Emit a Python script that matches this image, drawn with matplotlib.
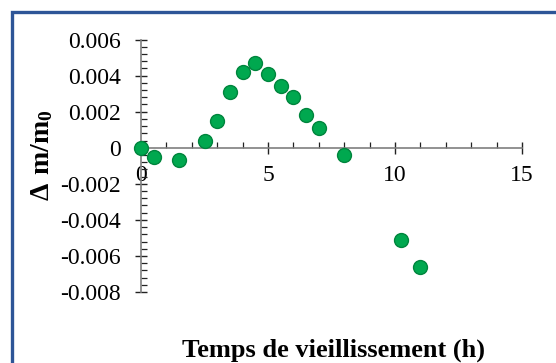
import numpy as np
import matplotlib
matplotlib.use("Agg")
import matplotlib.pyplot as plt
from matplotlib.patches import Rectangle
from matplotlib.ticker import MultipleLocator

# données
temps = [0, 0.5, 1.5, 2.5, 3, 3.5, 4, 4.5, 5, 5.5, 6, 6.5, 7, 8, 10.25, 11]
dm = [0, -0.0005, -0.0007, 0.0004, 0.0015, 0.0031, 0.0042, 0.0047, 0.0041,
      0.0034, 0.0028, 0.0018, 0.0011, -0.0004, -0.0051, -0.0066]
x_ticks = [0, 5, 10, 15]
y_ticks = [-0.008, -0.006, -0.004, -0.002, 0, 0.002, 0.004, 0.006]

plt.rcParams['font.family'] = ['Liberation Serif', 'DejaVu Serif']
plt.rcParams['mathtext.fontset'] = 'custom'
plt.rcParams['mathtext.rm'] = 'Liberation Serif'
plt.rcParams['mathtext.bf'] = 'Liberation Serif:bold'

fig = plt.figure(figsize=(5.56, 3.63), dpi=100)
fig.patch.set_facecolor('white')

# cadre bleu (coupé à droite et en bas comme dans l'original)
fig.patches.append(Rectangle((11.5 / 556, -0.1), 1.2, 1 - 11.5 / 363 + 0.1,
                             transform=fig.transFigure, fill=False,
                             edgecolor='#2E5597', linewidth=2.4, zorder=0))

ax = fig.add_axes([141 / 556, 1 - 292 / 363, 381 / 556, 252.5 / 363])
ax.scatter(temps, dm, s=100, color='#00A84F', edgecolors='#00853D',
           linewidths=1.0, zorder=3, clip_on=False)

ax.set_xlim(0, 15)
ax.set_ylim(-0.008, 0.006)
ax.set_xticks(x_ticks)
ax.set_yticks(y_ticks)
ax.xaxis.set_minor_locator(MultipleLocator(1))
ax.yaxis.set_minor_locator(MultipleLocator(0.0004))
ax.yaxis.set_major_formatter(plt.FuncFormatter(lambda v, p: '0' if abs(v) < 1e-12 else f'{v:.3f}'))

for s in ['top', 'right']:
    ax.spines[s].set_visible(False)
ax.spines['bottom'].set_position(('data', 0))
ax.spines['left'].set_position(('data', 0))
for s in ['bottom', 'left']:
    ax.spines[s].set_color('#7F7F7F')
    ax.spines[s].set_linewidth(1.2)

ax.tick_params(which='major', direction='inout', length=9, width=1.0,
               color='#222222', labelsize=17, labelcolor='black')
ax.tick_params(axis='x', which='major', pad=8)
ax.tick_params(axis='y', which='major', pad=10)
ax.tick_params(which='minor', direction='in', length=4.5, width=0.9, color='#222222')

ax.set_xlabel('Temps de vieillissement (h)', fontsize=19, fontweight='bold')
ax.xaxis.set_label_coords(0.504, -0.2297)
ax.xaxis.label.set_va('center')
ax.set_ylabel(r'$\mathbf{Δ\ m/m_0}$', fontsize=20)
ax.yaxis.set_label_coords(-0.26, 0.54)
ax.yaxis.label.set_va('center')

fig.savefig('out.png', dpi=100, facecolor='white')
